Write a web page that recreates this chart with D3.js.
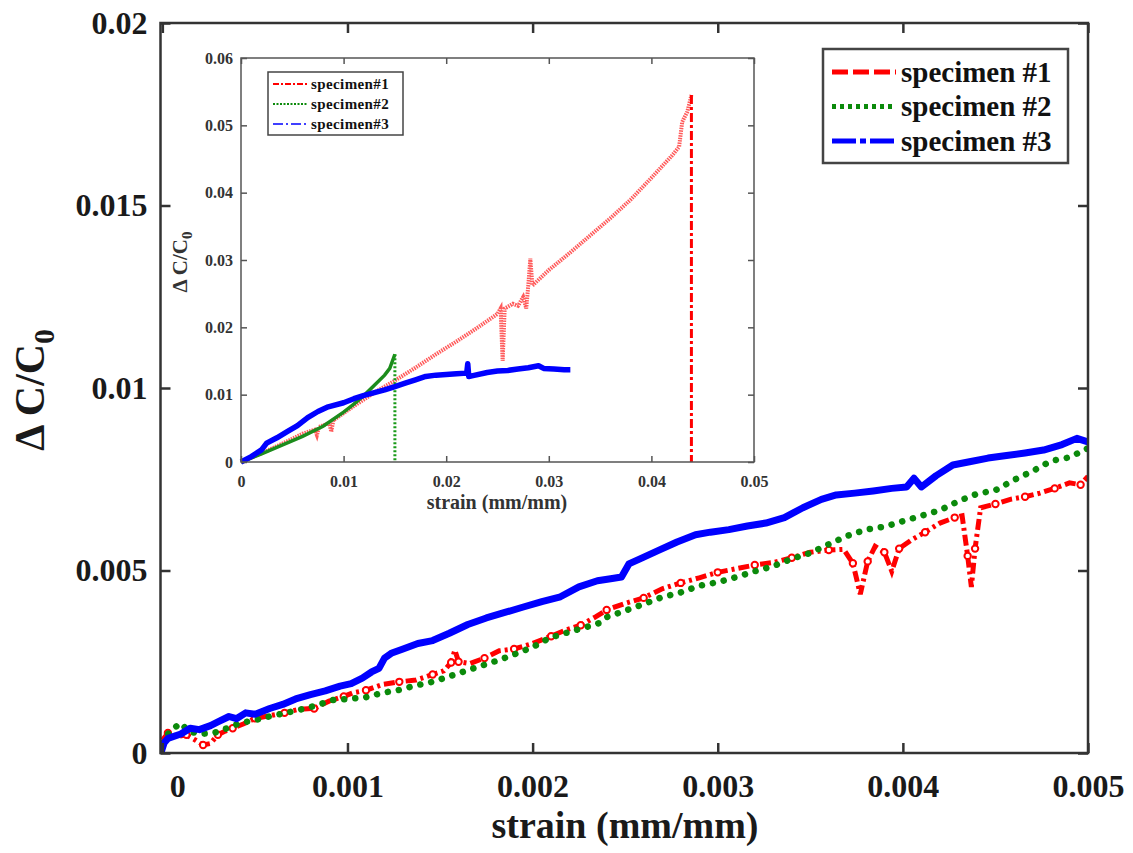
<!DOCTYPE html>
<html>
<head>
<meta charset="utf-8">
<script src="https://cdn.jsdelivr.net/npm/d3@7"></script>
<style>
body{margin:0;background:#fff;}
svg{display:block;}
svg text{font-family:"Liberation Serif","Times New Roman",serif;font-weight:bold;}
</style>
</head>
<body>
<svg id="chart" width="1133" height="853"></svg>
<script>
// legend names
var seriesNames = ["specimen #1", "specimen #2", "specimen #3"];

// main plot ticks
var mainXTicks = [0, 0.001, 0.002, 0.003, 0.004, 0.005];
var mainXLabels = ["0", "0.001", "0.002", "0.003", "0.004", "0.005"];
var mainYTicks = [0, 0.005, 0.01, 0.015, 0.02];
var mainYLabels = ["0", "0.005", "0.01", "0.015", "0.02"];

// inset ticks
var insetXTicks = [0, 0.01, 0.02, 0.03, 0.04, 0.05];
var insetXLabels = ["0", "0.01", "0.02", "0.03", "0.04", "0.05"];
var insetYTicks = [0, 0.01, 0.02, 0.03, 0.04, 0.05, 0.06];
var insetYLabels = ["0", "0.01", "0.02", "0.03", "0.04", "0.05", "0.06"];

// main plot: [strain, dC/C0]
var main1 = [[0,0.00035],[0.00003,0.00055],[0.00008,0.00045],[0.00013,0.0005],[0.00018,0.00035],[0.00022,0.00022],[0.00026,0.00026],[0.0003,0.0005],[0.00034,0.0006],[0.00038,0.00068],[0.00044,0.0008],[0.0005,0.00095],[0.00058,0.00102],[0.00066,0.0011],[0.00074,0.0012],[0.00082,0.00122],[0.0009,0.00142],[0.00098,0.00155],[0.00103,0.00165],[0.0011,0.00172],[0.00119,0.00188],[0.00128,0.00195],[0.00137,0.002],[0.00146,0.00215],[0.00152,0.00225],[0.00156,0.00248],[0.00158,0.00282],[0.0016,0.0025],[0.00166,0.00245],[0.00174,0.0026],[0.00182,0.0028],[0.0019,0.00285],[0.002,0.003],[0.0021,0.0032],[0.00218,0.00337],[0.00226,0.0035],[0.00234,0.00373],[0.0024,0.00392],[0.0025,0.0041],[0.0026,0.00425],[0.0027,0.0045],[0.0028,0.00466],[0.0029,0.0048],[0.003,0.00495],[0.0031,0.00505],[0.0032,0.00515],[0.0033,0.00522],[0.0034,0.00535],[0.0035,0.0055],[0.0036,0.00556],[0.00368,0.00558],[0.00373,0.0052],[0.00377,0.00435],[0.00381,0.00525],[0.00385,0.00566],[0.0039,0.0055],[0.00394,0.00498],[0.00398,0.0056],[0.00405,0.00585],[0.00412,0.00605],[0.0042,0.0063],[0.00428,0.00645],[0.00432,0.0065],[0.00435,0.0054],[0.00437,0.00455],[0.00439,0.0056],[0.00442,0.00672],[0.0045,0.00682],[0.00458,0.00695],[0.00466,0.00702],[0.00474,0.00712],[0.00482,0.00725],[0.0049,0.0074],[0.00496,0.00735],[0.005,0.00758]];
var main2 = [[0,0.00027],[0.00004,0.0006],[0.0001,0.00082],[0.00014,0.0006],[0.0002,0.00052],[0.00028,0.00055],[0.00035,0.00068],[0.00042,0.00082],[0.0005,0.0009],[0.00057,0.00099],[0.00065,0.00108],[0.00074,0.00118],[0.00083,0.0013],[0.00092,0.00145],[0.001,0.00148],[0.0011,0.00153],[0.00119,0.00165],[0.00128,0.00173],[0.00137,0.00185],[0.00146,0.00195],[0.00155,0.0021],[0.00165,0.00227],[0.00173,0.0024],[0.00182,0.00255],[0.0019,0.0027],[0.002,0.0029],[0.00209,0.00315],[0.00218,0.00329],[0.00227,0.00342],[0.00236,0.00356],[0.0024,0.00372],[0.0025,0.0039],[0.0026,0.00408],[0.0027,0.00427],[0.0028,0.0044],[0.0029,0.00458],[0.003,0.00468],[0.0031,0.00482],[0.0032,0.00498],[0.0033,0.00512],[0.0034,0.00532],[0.0035,0.00548],[0.0036,0.00572],[0.0037,0.00595],[0.0038,0.00612],[0.0039,0.0062],[0.004,0.00635],[0.0041,0.0065],[0.0042,0.00665],[0.0043,0.0069],[0.0044,0.0071],[0.0045,0.0072],[0.0046,0.00748],[0.0047,0.00772],[0.0048,0.008],[0.0049,0.0081],[0.005,0.00835]];
var main3 = [[-0.000008,0],[0.00001,0.00028],[0.00003,0.0004],[0.0001,0.00052],[0.00015,0.00068],[0.0002,0.00064],[0.00026,0.00075],[0.0003,0.00085],[0.00036,0.001],[0.0004,0.00094],[0.00045,0.0011],[0.0005,0.00106],[0.00058,0.00122],[0.00065,0.00133],[0.00072,0.00148],[0.0008,0.0016],[0.00088,0.0017],[0.00096,0.00183],[0.00102,0.0019],[0.00108,0.00205],[0.00113,0.00222],[0.00117,0.00232],[0.0012,0.0026],[0.00124,0.00274],[0.0013,0.00285],[0.00138,0.003],[0.00146,0.00308],[0.00155,0.00328],[0.00165,0.00352],[0.00175,0.0037],[0.00185,0.00385],[0.00195,0.004],[0.00205,0.00415],[0.00215,0.00428],[0.00225,0.00455],[0.00235,0.00472],[0.00243,0.00478],[0.00248,0.00482],[0.00252,0.00518],[0.00258,0.00532],[0.00268,0.00555],[0.00278,0.00578],[0.00288,0.00598],[0.00296,0.00605],[0.00306,0.00612],[0.00316,0.00622],[0.00326,0.0063],[0.00336,0.00645],[0.00346,0.00672],[0.00356,0.00695],[0.00364,0.00707],[0.00374,0.00712],[0.00384,0.00718],[0.00394,0.00725],[0.00402,0.00729],[0.00406,0.00753],[0.0041,0.00729],[0.00418,0.0076],[0.00427,0.00789],[0.00436,0.00798],[0.00446,0.00808],[0.00456,0.00815],[0.00466,0.00822],[0.00476,0.0083],[0.00486,0.00845],[0.00494,0.00862],[0.005,0.00852]];

// inset: full test, last point is the break
var inset1 = [[0,0],[0.002,0.0013],[0.004,0.0027],[0.006,0.0042],[0.0072,0.0048],[0.0074,0.004],[0.0076,0.0052],[0.0086,0.0058],[0.0088,0.0045],[0.009,0.0062],[0.011,0.0083],[0.013,0.0103],[0.015,0.0121],[0.017,0.014],[0.019,0.016],[0.021,0.0179],[0.023,0.0199],[0.025,0.022],[0.0253,0.0228],[0.0255,0.015],[0.0257,0.0228],[0.0265,0.0235],[0.027,0.0232],[0.0275,0.0245],[0.0278,0.0228],[0.028,0.0262],[0.0282,0.0302],[0.0284,0.0262],[0.03,0.0285],[0.032,0.031],[0.034,0.0336],[0.036,0.0362],[0.038,0.039],[0.04,0.0422],[0.042,0.0455],[0.0427,0.0468],[0.043,0.0505],[0.0435,0.052],[0.0439,0.0545],[0.0439,0]];
var inset2 = [[0,0],[0.002,0.0012],[0.004,0.0025],[0.006,0.0038],[0.008,0.0053],[0.01,0.0074],[0.011,0.0086],[0.012,0.0099],[0.013,0.0114],[0.014,0.0129],[0.0145,0.0139],[0.015,0.016],[0.015,0]];
var inset3 = [[0,0],[0.001,0.0008],[0.002,0.0018],[0.0025,0.0028],[0.0035,0.0036],[0.0045,0.0045],[0.0055,0.0054],[0.0065,0.0066],[0.0075,0.0075],[0.0085,0.0082],[0.01,0.0088],[0.011,0.0094],[0.012,0.0099],[0.013,0.0103],[0.014,0.0107],[0.015,0.0112],[0.016,0.0117],[0.017,0.0122],[0.018,0.0127],[0.019,0.0129],[0.02,0.013],[0.021,0.0131],[0.022,0.0132],[0.0221,0.0146],[0.0222,0.0127],[0.0225,0.0128],[0.024,0.0133],[0.025,0.0135],[0.026,0.0136],[0.027,0.0138],[0.028,0.014],[0.029,0.0143],[0.0295,0.0139],[0.0305,0.0138],[0.0315,0.0137],[0.0321,0.0137]];

(function(){
	var svg = d3.select("#chart");
	var red = "#ff0000", green = "#0b8a0b", blue = "#0000ff";
	var serif = "Liberation Serif, Times New Roman, serif";

	// ---------- main plot ----------
	var m = {left: 160.5, right: 1088, top: 23, bottom: 753};
	var x = d3.scaleLinear().domain([-0.00001, 0.005]).range([m.left, m.right]);
	var y = d3.scaleLinear().domain([0, 0.02]).range([m.bottom, m.top]);

	svg.append("clipPath").attr("id", "mainclip")
		.append("rect").attr("x", m.left).attr("y", m.top)
		.attr("width", m.right - m.left).attr("height", m.bottom - m.top);

	var line = d3.line()
		.x(function(d){ return x(d[0]); })
		.y(function(d){ return y(d[1]); });

	var plot = svg.append("g").attr("clip-path", "url(#mainclip)");

	plot.append("path").datum(main1)
		.attr("d", line).attr("fill", "none")
		.attr("stroke", red).attr("stroke-width", 5)
		.attr("stroke-dasharray", "11,4,3,4");
	plot.append("g").selectAll("circle")
		.data(main1.filter(function(d, i){ return i % 2 === 1; }))
		.enter().append("circle")
			.attr("cx", function(d){ return x(d[0]); })
			.attr("cy", function(d){ return y(d[1]); })
			.attr("r", 3.2)
			.attr("fill", "#fff").attr("stroke", red).attr("stroke-width", 2);

	plot.append("path").datum(main2)
		.attr("d", line).attr("fill", "none")
		.attr("stroke", green).attr("stroke-width", 6.5)
		.attr("stroke-linecap", "round")
		.attr("stroke-dasharray", "0.1,11");

	plot.append("path").datum(main3)
		.attr("d", line).attr("fill", "none")
		.attr("stroke", blue).attr("stroke-width", 7)
		.attr("stroke-linejoin", "round");

	// axes
	var gx = svg.append("g")
		.attr("transform", "translate(0," + m.bottom + ")")
		.call(d3.axisBottom(x).tickValues(mainXTicks)
			.tickFormat(function(d, i){ return mainXLabels[i]; })
			.tickSizeInner(-10).tickSizeOuter(0).tickPadding(21));
	gx.selectAll("text").filter(function(d){ return d === 0; }).attr("dx", 15);

	var gy = svg.append("g")
		.attr("transform", "translate(" + m.left + ",0)")
		.call(d3.axisLeft(y).tickValues(mainYTicks)
			.tickFormat(function(d, i){ return mainYLabels[i]; })
			.tickSizeInner(-10).tickSizeOuter(0).tickPadding(13));

	var gt = svg.append("g")
		.attr("transform", "translate(0," + m.top + ")")
		.call(d3.axisTop(x).tickValues(mainXTicks).tickFormat("")
			.tickSizeInner(-10).tickSizeOuter(0));
	var gr = svg.append("g")
		.attr("transform", "translate(" + m.right + ",0)")
		.call(d3.axisRight(y).tickValues(mainYTicks).tickFormat("")
			.tickSizeInner(-10).tickSizeOuter(0));

	[gx, gy, gt, gr].forEach(function(g){
		g.attr("font-family", serif);
		g.select(".domain").remove();
		g.selectAll("line").attr("stroke", "#333").attr("stroke-width", 2.5);
		g.selectAll("text")
			.attr("font-family", serif)
			.attr("font-weight", "bold")
			.attr("font-size", 32).attr("fill", "#1a1a1a");
	});

	svg.append("rect")
		.attr("x", m.left).attr("y", m.top)
		.attr("width", m.right - m.left).attr("height", m.bottom - m.top)
		.attr("fill", "none").attr("stroke", "#333").attr("stroke-width", 2.5);

	// titles
	svg.append("text")
		.attr("x", 625).attr("y", 838)
		.attr("text-anchor", "middle")
		.attr("font-family", serif).attr("font-weight", "bold")
		.attr("font-size", 38).attr("fill", "#1a1a1a")
		.text("strain (mm/mm)");

	var yt = svg.append("text")
		.attr("transform", "translate(44,390) rotate(-90)")
		.attr("text-anchor", "middle")
		.attr("font-family", serif).attr("font-weight", "bold")
		.attr("font-size", 42).attr("fill", "#1a1a1a");
	yt.append("tspan").text("\u0394 C/C");
	yt.append("tspan").attr("font-size", 29).attr("dy", 10).text("0");

	// main legend
	var lg = svg.append("g");
	lg.append("rect")
		.attr("x", 823).attr("y", 49).attr("width", 245).attr("height", 114)
		.attr("fill", "#fff").attr("stroke", "#444").attr("stroke-width", 2.5);
	var legendStyles = [
		{color: red, dash: "16,5", width: 5},
		{color: green, dash: "4,4", width: 5},
		{color: blue, dash: "24,4,6,4", width: 5}
	];
	seriesNames.forEach(function(name, i){
		var cy = 72 + i * 34.5;
		lg.append("line")
			.attr("x1", 832).attr("x2", 896).attr("y1", cy).attr("y2", cy)
			.attr("stroke", legendStyles[i].color)
			.attr("stroke-width", legendStyles[i].width)
			.attr("stroke-dasharray", legendStyles[i].dash);
		lg.append("text")
			.attr("x", 901).attr("y", cy).attr("dy", "0.33em")
			.attr("font-family", serif).attr("font-weight", "bold")
			.attr("font-size", 29).attr("fill", "#111")
			.text(name);
	});

	// ---------- inset ----------
	var n = {left: 241, right: 754, top: 58, bottom: 462};
	var ix = d3.scaleLinear().domain([0, 0.05]).range([n.left, n.right]);
	var iy = d3.scaleLinear().domain([0, 0.06]).range([n.bottom, n.top]);
	var iline = d3.line()
		.x(function(d){ return ix(d[0]); })
		.y(function(d){ return iy(d[1]); });

	var ins = svg.append("g");
	ins.append("rect")
		.attr("x", n.left).attr("y", n.top)
		.attr("width", n.right - n.left).attr("height", n.bottom - n.top)
		.attr("fill", "#fff");

	// specimen 1: curve and break line
	ins.append("path").datum(inset1.slice(0, inset1.length - 1))
		.attr("d", iline).attr("fill", "none")
		.attr("stroke", "#ff5a5a").attr("stroke-width", 4)
		.attr("stroke-dasharray", "1.5,1");
	ins.append("path").datum(inset1.slice(inset1.length - 2))
		.attr("d", iline).attr("fill", "none")
		.attr("stroke", red).attr("stroke-width", 3)
		.attr("stroke-dasharray", "9,3,3,3");

	ins.append("path").datum(inset2.slice(0, inset2.length - 1))
		.attr("d", iline).attr("fill", "none")
		.attr("stroke", "#1c8c1c").attr("stroke-width", 3.5);
	ins.append("path").datum(inset2.slice(inset2.length - 2))
		.attr("d", iline).attr("fill", "none")
		.attr("stroke", "#1a9a1a").attr("stroke-width", 3)
		.attr("stroke-dasharray", "2,2");

	ins.append("path").datum(inset3)
		.attr("d", iline).attr("fill", "none")
		.attr("stroke", blue).attr("stroke-width", 5.5)
		.attr("stroke-linejoin", "round");

	var igx = ins.append("g")
		.attr("transform", "translate(0," + n.bottom + ")")
		.call(d3.axisBottom(ix).tickValues(insetXTicks)
			.tickFormat(function(d, i){ return insetXLabels[i]; })
			.tickSizeInner(-6).tickSizeOuter(0).tickPadding(14));
	var igy = ins.append("g")
		.attr("transform", "translate(" + n.left + ",0)")
		.call(d3.axisLeft(iy).tickValues(insetYTicks)
			.tickFormat(function(d, i){ return insetYLabels[i]; })
			.tickSizeInner(-6).tickSizeOuter(0).tickPadding(8));
	var igt = ins.append("g")
		.attr("transform", "translate(0," + n.top + ")")
		.call(d3.axisTop(ix).tickValues(insetXTicks).tickFormat("")
			.tickSizeInner(-6).tickSizeOuter(0));
	var igr = ins.append("g")
		.attr("transform", "translate(" + n.right + ",0)")
		.call(d3.axisRight(iy).tickValues(insetYTicks).tickFormat("")
			.tickSizeInner(-6).tickSizeOuter(0));

	[igx, igy, igt, igr].forEach(function(g){
		g.attr("font-family", serif);
		g.select(".domain").remove();
		g.selectAll("line").attr("stroke", "#555").attr("stroke-width", 1.5);
		g.selectAll("text")
			.attr("font-family", serif)
			.attr("font-weight", "bold")
			.attr("font-size", 16).attr("fill", "#333");
	});

	ins.append("rect")
		.attr("x", n.left).attr("y", n.top)
		.attr("width", n.right - n.left).attr("height", n.bottom - n.top)
		.attr("fill", "none").attr("stroke", "#555").attr("stroke-width", 1.5);

	ins.append("text")
		.attr("x", 497).attr("y", 509)
		.attr("text-anchor", "middle")
		.attr("font-family", serif).attr("font-weight", "bold")
		.attr("font-size", 20).attr("fill", "#333")
		.text("strain (mm/mm)");

	var iyt = ins.append("text")
		.attr("transform", "translate(187,262) rotate(-90)")
		.attr("text-anchor", "middle")
		.attr("font-family", serif).attr("font-weight", "bold")
		.attr("font-size", 21).attr("fill", "#333");
	iyt.append("tspan").text("\u0394 C/C");
	iyt.append("tspan").attr("font-size", 15).attr("dy", 5).text("0");

	// inset legend
	ins.append("rect")
		.attr("x", 268).attr("y", 72).attr("width", 135).attr("height", 63)
		.attr("fill", "#fff").attr("stroke", "#444").attr("stroke-width", 1.5);
	var insetLegend = [
		{color: red, dash: "6,2,2,2", width: 2},
		{color: green, dash: "2,1.5", width: 2},
		{color: blue, dash: "10,3,2,3", width: 1.5}
	];
	seriesNames.forEach(function(name, i){
		var cy = 84 + i * 20;
		ins.append("line")
			.attr("x1", 273).attr("x2", 308).attr("y1", cy).attr("y2", cy)
			.attr("stroke", insetLegend[i].color)
			.attr("stroke-width", insetLegend[i].width)
			.attr("stroke-dasharray", insetLegend[i].dash);
		ins.append("text")
			.attr("x", 311).attr("y", cy).attr("dy", "0.33em")
			.attr("font-family", serif).attr("font-weight", "bold")
			.attr("font-size", 15).attr("letter-spacing", 0.4).attr("fill", "#111")
			.text(name.replace(" #", "#"));
	});
})();
</script>
</body>
</html>
